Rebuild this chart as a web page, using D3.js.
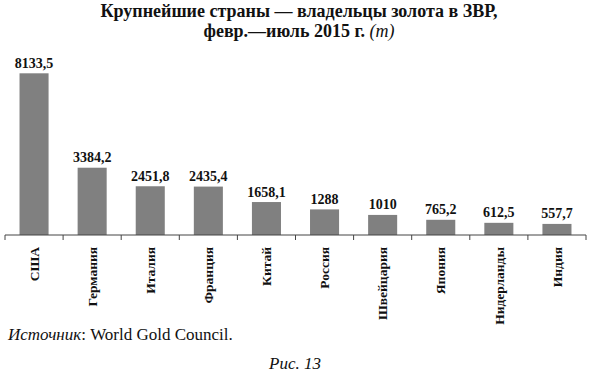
<!DOCTYPE html>
<html>
<head>
<meta charset="utf-8">
<script src="https://cdn.jsdelivr.net/npm/d3@7"></script>
<style>
  body { margin: 0; background: #fff; }
  text { font-family: "Liberation Serif", "DejaVu Serif", serif; fill: #111; }
</style>
</head>
<body>
<div id="chart"></div>
<script>
var countries = ["США", "Германия", "Италия", "Франция", "Китай", "Россия", "Швейцария", "Япония", "Нидерланды", "Индия"];
var tonnes = [8133.5, 3384.2, 2451.8, 2435.4, 1658.1, 1288, 1010, 765.2, 612.5, 557.7];
var valueLabels = ["8133,5", "3384,2", "2451,8", "2435,4", "1658,1", "1288", "1010", "765,2", "612,5", "557,7"];

var width = 595, height = 376;
var axisY = 235, plotTop = 73.3;

var svg = d3.select("#chart").append("svg")
  .attr("width", width)
  .attr("height", height);

// title, two lines
svg.append("text")
  .attr("x", 299).attr("y", 17)
  .attr("text-anchor", "middle")
  .attr("font-weight", "bold")
  .attr("font-size", 18)
  .text("Крупнейшие страны — владельцы золота в ЗВР,");
var line2 = svg.append("text")
  .attr("x", 299).attr("y", 36.5)
  .attr("text-anchor", "middle")
  .attr("font-weight", "bold")
  .attr("font-size", 18);
line2.append("tspan").text("февр.—июль 2015 г. ");
line2.append("tspan").attr("font-style", "italic").attr("font-weight", "normal").text("(т)");

var x = d3.scaleBand()
  .domain(countries)
  .range([5, 586])
  .paddingInner(0.5)
  .paddingOuter(0.25);

var y = d3.scaleLinear()
  .domain([0, d3.max(tonnes)])
  .range([axisY, plotTop]);

var data = countries.map(function(c, i) {
  return {name: c, value: tonnes[i], label: valueLabels[i]};
});

svg.append("g").selectAll("rect")
  .data(data)
  .enter().append("rect")
  .attr("x", function(d) { return x(d.name); })
  .attr("y", function(d) { return y(d.value); })
  .attr("width", x.bandwidth())
  .attr("height", function(d) { return axisY - y(d.value); })
  .attr("fill", "#808080");

svg.append("g").selectAll("text")
  .data(data)
  .enter().append("text")
  .attr("x", function(d) { return x(d.name) + x.bandwidth() / 2; })
  .attr("y", function(d) { return y(d.value) - 5.5; })
  .attr("text-anchor", "middle")
  .attr("font-weight", "bold")
  .attr("font-size", 14)
  .text(function(d) { return d.label; });

// axis with ticks between categories
var step = x.step();
var tickPos = d3.range(countries.length + 1).map(function(i) { return 5 + i * step; });
var axis = svg.append("g");
axis.append("line")
  .attr("x1", 5).attr("x2", 586)
  .attr("y1", axisY).attr("y2", axisY)
  .attr("stroke", "#444").attr("stroke-width", 1);
axis.selectAll(".tick")
  .data(tickPos)
  .enter().append("line")
  .attr("x1", function(d) { return d; }).attr("x2", function(d) { return d; })
  .attr("y1", axisY).attr("y2", axisY + 5)
  .attr("stroke", "#444");

svg.append("g").selectAll("text")
  .data(countries)
  .enter().append("text")
  .attr("transform", function(d) {
    return "translate(" + (x(d) + x.bandwidth() / 2) + "," + 247 + ") rotate(-90)";
  })
  .attr("dy", "0.35em")
  .attr("text-anchor", "end")
  .attr("font-weight", "bold")
  .attr("font-size", 13.5)
  .text(function(d) { return d; });

var src = svg.append("text")
  .attr("x", 8).attr("y", 340)
  .attr("font-size", 17);
src.append("tspan").attr("font-style", "italic").text("Источник");
src.append("tspan").text(": World Gold Council.");

svg.append("text")
  .attr("x", 295).attr("y", 369)
  .attr("text-anchor", "middle")
  .attr("font-style", "italic")
  .attr("font-size", 17)
  .text("Рис. 13");
</script>
</body>
</html>
